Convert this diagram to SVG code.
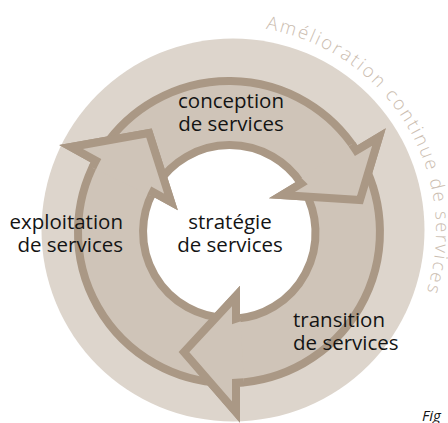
<svg xmlns="http://www.w3.org/2000/svg" width="448" height="423" viewBox="0 0 448 423">
  <style>
    .arrow { fill: #cfc4b8; stroke: #aa9885; stroke-width: 8; stroke-linejoin: miter; stroke-miterlimit: 10; }
    .lbl { font-family: "Open Sans", "Liberation Sans", sans-serif; font-size: 20.5px; fill: #141414; }
    .arc { font-family: "Open Sans", "Liberation Sans", sans-serif; font-size: 18.5px; font-weight: 300; fill: #cbbdb0; letter-spacing: 2.1px; }
  </style>
  <defs>
    <path id="arcpath" d="M 265.9 29 A 205 205 0 0 1 416.8 317.6" fill="none"/>
  </defs>
  <rect width="448" height="423" fill="#ffffff"/>
  <g id="background">
    <circle cx="233" cy="230" r="191.5" fill="#ddd5cc"/>
    <circle cx="229" cy="232" r="86" fill="#ffffff"/>
    <text class="arc"><textPath href="#arcpath">Amélioration continue de services</textPath></text>
  </g>
  <g id="connectors">
    <path class="arrow" d="M 103.8 147.6 A 151 151 0 0 1 356.2 150.6 L 379 137 L 360 200 L 282 195 L 301.2 183.5 A 86 86 0 0 0 157.7 183.9 Z"/>
    <path class="arrow" d="M 362.9 162.3 A 151 151 0 0 1 236 382.8 L 236 412 L 184 352 L 236 296 L 236 318.7 A 86 86 0 0 0 304.2 190.3 Z"/>
    <path class="arrow" d="M 222.9 382.9 A 151 151 0 0 1 95.9 160.7 L 71 147 L 149 133 L 171 202 L 152.9 192 A 86 86 0 0 0 226 317.9 Z"/>
    <path class="arrow" d="M 92.4 167.7 A 151 151 0 0 1 95.9 160.7 L 71 147 L 149 133 L 171 202 L 152.9 192 A 86 86 0 0 0 150.9 196.1"/>
    <path class="arrow" d="M 351.8 144.1 A 151 151 0 0 1 356.2 150.6 L 379 137 L 360 200 L 282 195 L 301.2 183.5 A 86 86 0 0 0 297.8 180.4"/>
    <path class="arrow" d="M 244 382.3 A 151 151 0 0 1 236 382.8 L 236 412 L 184 352 L 236 296 L 236 318.7 A 86 86 0 0 0 240.4 317.2"/>
  </g>
  <g id="strategie">
    <text class="lbl" x="230" y="229" text-anchor="middle">stratégie</text>
    <text class="lbl" x="230" y="252" text-anchor="middle">de services</text>
  </g>
  <g id="conception">
    <text class="lbl" x="231" y="108" text-anchor="middle">conception</text>
    <text class="lbl" x="231" y="131" text-anchor="middle">de services</text>
  </g>
  <g id="transition">
    <text class="lbl" x="293" y="327">transition</text>
    <text class="lbl" x="293" y="350">de services</text>
  </g>
  <g id="exploitation">
    <text class="lbl" x="123" y="229" text-anchor="end">exploitation</text>
    <text class="lbl" x="123" y="252" text-anchor="end">de services</text>
  </g>
  <g id="caption">
    <text x="422" y="421" font-family="'Open Sans', 'Liberation Sans', sans-serif" font-size="15" font-style="italic" fill="#141414">Fig</text>
  </g>
</svg>
